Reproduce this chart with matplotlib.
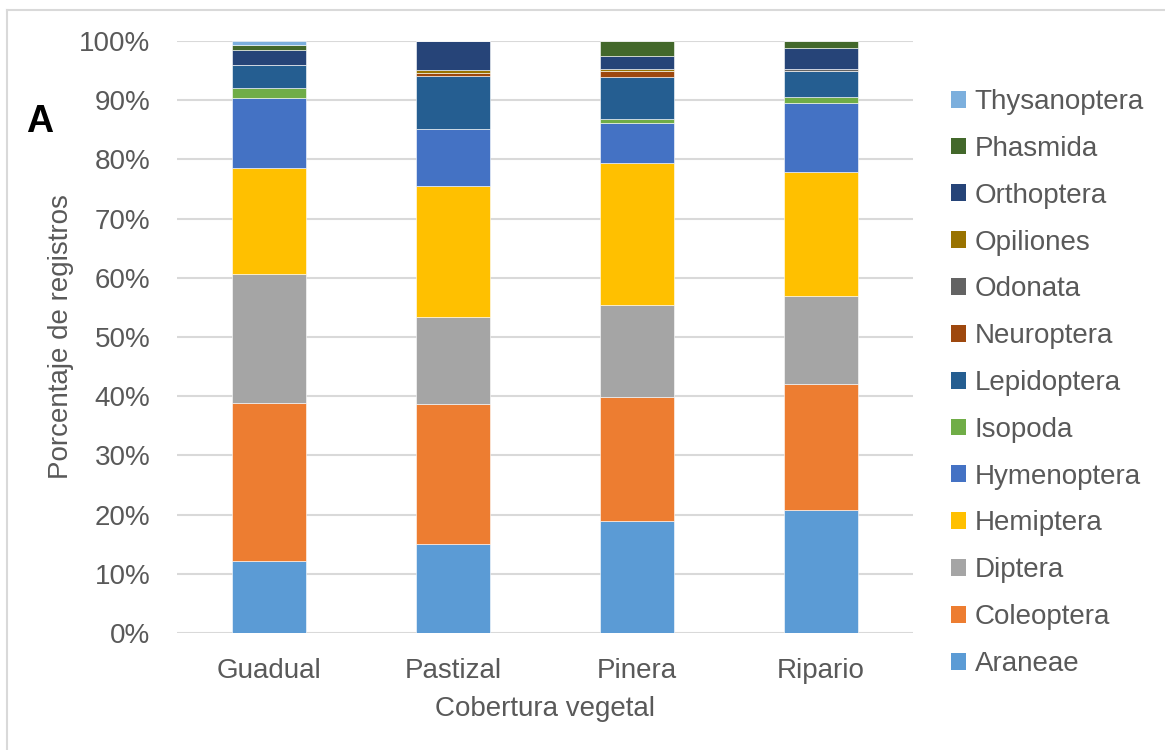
import numpy as np
import matplotlib
matplotlib.use("Agg")
import matplotlib.pyplot as plt
from matplotlib.patches import Patch
from matplotlib.lines import Line2D

plt.rcParams['font.family'] = ['Liberation Sans', 'DejaVu Sans']

coberturas = ["Guadual", "Pastizal", "Pinera", "Ripario"]
ordenes = ["Araneae", "Coleoptera", "Diptera", "Hemiptera", "Hymenoptera", "Isopoda",
           "Lepidoptera", "Neuroptera", "Odonata", "Opiliones", "Orthoptera",
           "Phasmida", "Thysanoptera"]

# porcentaje de registros por orden en cada cobertura
araneae      = [12.2, 15.0, 18.9, 20.8]
coleoptera   = [26.6, 23.7, 21.0, 21.3]
diptera      = [21.9, 14.6, 15.5, 14.9]
hemiptera    = [17.9, 22.2, 24.0, 20.8]
hymenoptera  = [11.8,  9.6,  6.7, 11.8]
isopoda      = [ 1.7,  0.0,  0.8,  1.0]
lepidoptera  = [ 3.8,  9.0,  7.1,  4.3]
neuroptera   = [ 0.0,  0.5,  0.9,  0.0]
odonata      = [ 0.0,  0.0,  0.0,  0.4]
opiliones    = [ 0.0,  0.5,  0.4,  0.0]
orthoptera   = [ 2.6,  4.9,  2.1,  3.5]
phasmida     = [ 0.9,  0.0,  2.6,  1.2]
thysanoptera = [ 0.6,  0.0,  0.0,  0.0]

series = [araneae, coleoptera, diptera, hemiptera, hymenoptera, isopoda, lepidoptera,
          neuroptera, odonata, opiliones, orthoptera, phasmida, thysanoptera]
colores = ["#5B9BD5", "#ED7D31", "#A5A5A5", "#FFC000", "#4472C4", "#70AD47", "#255E91",
           "#9E480E", "#636363", "#997300", "#264478", "#43682B", "#7CAFDD"]

texto = "#595959"
fs = 20

fig = plt.figure(figsize=(11.65, 7.5), dpi=100)
ax = fig.add_axes([177 / 1165, 117 / 750, 736 / 1165, 592 / 750])

x = np.arange(len(coberturas))
base = np.zeros(len(coberturas))
for nombre, vals, c in zip(ordenes, series, colores):
    v = np.array(vals) / 100.0
    ax.bar(x, v, 0.4, bottom=base, color=c, edgecolor="white", linewidth=0.4,
           label=nombre, zorder=3)
    base += v

ax.set_xlim(-0.5, 3.5)
ax.set_ylim(0, 1.0)
ax.set_yticks(np.arange(0, 1.01, 0.1))
ax.set_yticklabels([f"{int(round(t * 100))}%" for t in np.arange(0, 1.01, 0.1)])
ax.set_xticks(x)
ax.set_xticklabels(coberturas)
ax.grid(axis="y", color="#D9D9D9", linewidth=1.5, zorder=0)
ax.set_axisbelow(True)
for s in ax.spines.values():
    s.set_visible(False)
ax.tick_params(axis="both", length=0, labelsize=fs, colors=texto)
ax.tick_params(axis="y", pad=19)
ax.tick_params(axis="x", pad=18)
ax.set_xlabel("Cobertura vegetal", fontsize=fs, color=texto, labelpad=9)
ax.set_ylabel("Porcentaje de registros", fontsize=fs, color=texto, labelpad=4)

handles = [Patch(facecolor=c, edgecolor="none") for c in colores][::-1]
fig.legend(handles, ordenes[::-1], loc="center left", bbox_to_anchor=(951 / 1165, 1 - 383 / 750),
           frameon=False, fontsize=fs, labelcolor=texto, handlelength=0.55, handleheight=0.55,
           handletextpad=0.3, labelspacing=0.75, borderpad=0, borderaxespad=0)

fig.text(40 / 1165, 1 - 122 / 750, "A", fontsize=27, fontweight="bold", ha="center", va="center")

# marco del gráfico (borde izquierdo y superior)
fig.add_artist(Line2D([7 / 1165, 7 / 1165], [0, 1 - 10 / 750], color="#D9D9D9", linewidth=1.5))
fig.add_artist(Line2D([7 / 1165, 1], [1 - 10 / 750, 1 - 10 / 750], color="#D9D9D9", linewidth=1.5))

fig.savefig("out.png", dpi=100)
